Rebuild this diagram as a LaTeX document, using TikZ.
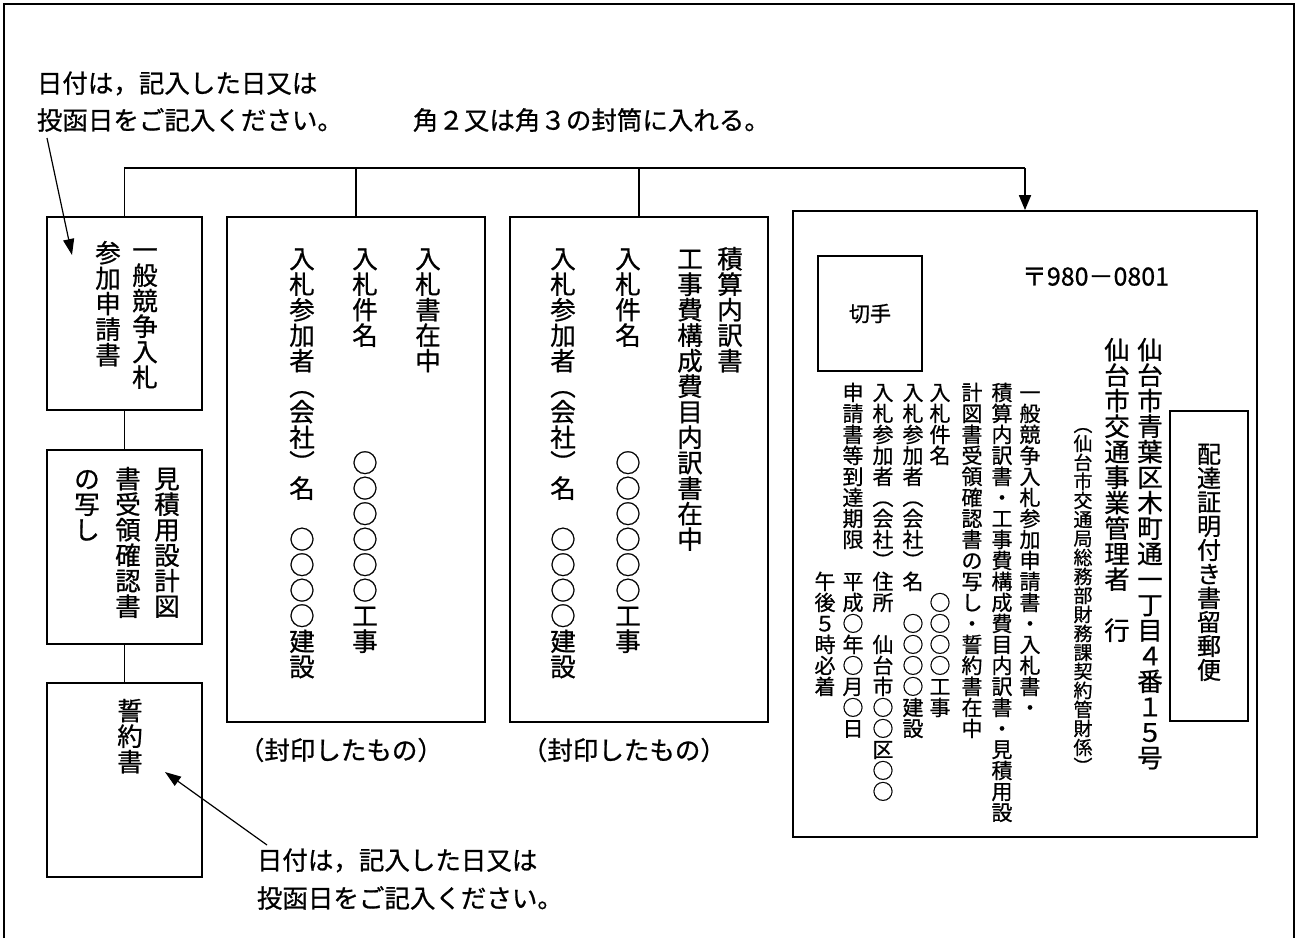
\documentclass[tikz,border=0pt]{standalone}
\usepackage{fontspec}
\setmainfont[FakeBold=0.8]{Noto Sans CJK JP}
\usetikzlibrary{arrows.meta}
\makeatletter
\def\vt@end{\vt@end}
\def\vt@loop#1{\ifx#1\vt@end\else\hbox to 1em{\hss\vrule height .88em depth .12em width 0pt\relax#1\hss}\expandafter\vt@loop\fi}
\newcommand\vcol[1]{\vbox{\offinterlineskip\vt@loop#1\vt@end}}
\newcommand\hstrut{\vrule height .88em depth .12em width 0pt\relax}
\makeatother
\begin{document}
\begin{tikzpicture}[x=1pt,y=-1pt,line width=1.8pt,
  boxn/.style={draw,inner sep=0pt},
  vc/.style={inner sep=0pt,anchor=north},
  fa/.style={font=\fontsize{25.5}{25.5}\selectfont},
  fb/.style={font=\fontsize{21}{21}\selectfont},
  fc/.style={font=\fontsize{19}{19}\selectfont},
  lbl/.style={inner sep=0pt,anchor=west,font=\fontsize{25.5}{25.5}\selectfont},
  arr/.style={-{Triangle[length=16pt,width=11pt]},line width=1.2pt}]
\useasboundingbox (0,0) rectangle (1298,938);
% outer frame (open at bottom)
\draw (4,938) -- (4,4) -- (1294,4) -- (1294,938);
% top labels
\node[lbl] (tl1) at (36,83) {\hstrut 日付は，記入した日又は};
\node[lbl] (tl2) at (36,120) {\hstrut 投函日をご記入ください。};
\node[lbl] (tl3) at (412,120) {\hstrut 角２又は角３の封筒に入れる。};
% left boxes
\node[boxn,minimum width=155pt,minimum height=193pt] (b1) at (124.5,313.5) {};
\node[boxn,minimum width=155pt,minimum height=194pt] (b2) at (124.5,547) {};
\node[boxn,minimum width=155pt,minimum height=194pt] (b3) at (124.5,780) {};
\node[vc,fa] (b1a) at (145,236) {\vcol{一般競争入札}};
\node[vc,fa] (b1b) at (108,239) {\vcol{参加申請書}};
\node[vc,fa] (b2a) at (167,465) {\vcol{見積用設計図}};
\node[vc,fa] (b2b) at (128,465) {\vcol{書受領確認書}};
\node[vc,fa] (b2c) at (87,465) {\vcol{の写し}};
\node[vc,fa] (b3a) at (130,697) {\vcol{誓約書}};
% middle boxes
\node[boxn,minimum width=258pt,minimum height=505pt] (m1) at (356,469.5) {};
\node[boxn,minimum width=258pt,minimum height=505pt] (m2) at (639,469.5) {};
\node[vc,fa] (m1a) at (428,245) {\vcol{入札書在中}};
\node[vc,fa] (m1b) at (365,245) {\vcol{入札件名　　　　○○○○○○工事}};
\node[vc,fa] (m1c) at (302,245) {\vcol{入札参加者︵会社︶名　○○○○建設}};
\node[vc,fa] (m2a) at (730,245) {\vcol{積算内訳書}};
\node[vc,fa] (m2b) at (690,245) {\vcol{工事費構成費目内訳書在中}};
\node[vc,fa] (m2c) at (628,245) {\vcol{入札件名　　　　○○○○○○工事}};
\node[vc,fa] (m2d) at (563,245) {\vcol{入札参加者︵会社︶名　○○○○建設}};
\node[lbl] (s1) at (238,750) {\hstrut （封印したもの）};
\node[lbl] (s2) at (521,750) {\hstrut （封印したもの）};
% envelope
\node[boxn,minimum width=464pt,minimum height=626pt] (env) at (1025,524) {};
\node[boxn,minimum width=104pt,minimum height=115pt,font=\fontsize{21}{21}\selectfont] (stamp) at (870,313.5) {\hstrut 切手};
\node[lbl,font=\fontsize{25}{25}\selectfont] (zip) at (1021,276) {\hstrut 〒980－0801};
\node[vc,fa] (ad1) at (1150,336) {\vcol{仙台市青葉区木町通一丁目４番１５号}};
\node[vc,fa] (ad2) at (1117,336) {\vcol{仙台市交通事業管理者　行}};
\node[vc,fc] (ad3) at (1083,414) {\vcol{︵仙台市交通局総務部財務課契約管財係︶}};
\node[boxn,minimum width=78pt,minimum height=310pt] (reg) at (1209,566) {};
\node[vc,font=\fontsize{24}{24}\selectfont] (rega) at (1209,441) {\vcol{配達証明付き書留郵便}};
\node[vc,fb] (e1) at (1030,381) {\vcol{一般競争入札参加申請書・入札書・}};
\node[vc,fb] (e2) at (1002,381) {\vcol{積算内訳書・工事費構成費目内訳書・見積用設}};
\node[vc,fb] (e3) at (972,381) {\vcol{計図書受領確認書の写し・誓約書在中}};
\node[vc,fb] (e4) at (940,381) {\vcol{入札件名　　　　　　○○○○工事}};
\node[vc,fb] (e5) at (913,381) {\vcol{入札参加者︵会社︶名　○○○○建設}};
\node[vc,fb] (e6) at (883,381) {\vcol{入札参加者︵会社︶住所　仙台市○○区○○}};
\node[vc,fb] (e7) at (853,381) {\vcol{申請書等到達期限　平成○年○月○日}};
\node[vc,fb] (e8) at (825,381) {\vcol{　　　　　　　　　午後５時必着}};
% bus connectors
\coordinate (busL) at (124.5,168);
\coordinate (busR) at (1025,168);
\draw (b1.north) -- (busL) -- (busR);
\draw (m1.north) -- (m1.north |- busL);
\draw (m2.north) -- (m2.north |- busL);
\draw[-{Triangle[length=15pt,width=12pt]}] (busR) -- (env.north);
\draw (b1.south) -- (b2.north);
\draw (b2.south) -- (b3.north);
% bottom labels
\node[lbl] (bl1) at (256,860) {\hstrut 日付は，記入した日又は};
\node[lbl] (bl2) at (256,898) {\hstrut 投函日をご記入ください。};
% pointer arrows
\coordinate (p1s) at (47,138);
\coordinate (p1e) at (72,255);
\draw[arr] (p1s) -- (p1e);
\coordinate (p2s) at (267,845);
\coordinate (p2e) at (165,772);
\draw[arr] (p2s) -- (p2e);
\end{tikzpicture}
\end{document}
